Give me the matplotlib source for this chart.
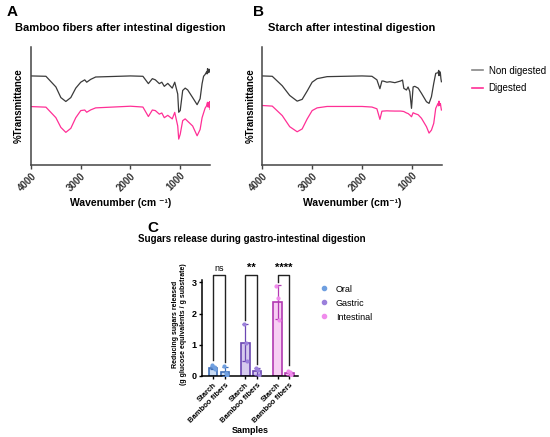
import matplotlib
matplotlib.use("Agg")
import matplotlib.pyplot as plt
from matplotlib.lines import Line2D

plt.rcParams['font.family'] = ['Liberation Sans', 'DejaVu Sans']

# FTIR spectra (wavenumber, % transmittance in arbitrary units)
a_wn = [4000, 3700, 3500, 3400, 3300, 3200, 3100, 3000, 2920, 2880, 2800, 2700, 2000, 1750, 1640, 1560,
        1500, 1420, 1370, 1320, 1250, 1160, 1110, 1050, 1030, 1000, 950, 900, 850, 750, 660, 600,
        560, 530, 500, 470, 460, 450, 440, 430, 420, 410, 400]
a_non = [75.3, 75, 66, 57, 53.7, 57, 65, 70, 72, 70, 72.4, 74.4, 75.3, 75, 68.8, 73,
         72, 68.8, 70, 66.5, 69, 65, 70, 60, 44.6, 46, 63, 65, 63.5, 57, 51, 56,
         68.8, 75, 76.5, 78.7, 77, 81.5, 78, 79, 81, 78.5, 80]
a_dig = [49.4, 48.9, 40, 31.8, 27.6, 31, 40, 46, 46.5, 44.6, 46.6, 48.3, 49.7, 49, 41, 46.5,
         46, 43, 44, 40, 42, 39, 44.5, 33, 21.9, 26, 37.5, 39, 37, 33, 24.7, 30,
         40, 44, 48, 50, 52, 53, 49, 52.5, 49, 53.5, 47]

b_wn = [4000, 3800, 3600, 3450, 3300, 3200, 3100, 3000, 2900, 2700, 2000, 1800, 1700, 1640, 1600, 1575,
        1500, 1440, 1340, 1226, 1186, 1160, 1107, 1074, 1040, 1006, 974, 940, 873, 806, 706, 654,
        606, 560, 520, 474, 460, 454, 440, 426, 416, 406]
b_non = [75.3, 75, 67, 58.8, 54, 55.5, 62.5, 70, 73, 74.7, 75.3, 75, 72, 64.5, 71, 71,
         70, 70.4, 69.6, 71, 71.8, 64.8, 63.4, 66, 62, 47.9, 66, 66.5, 65, 60.6, 53.5, 52.1,
         57.7, 69, 77.5, 78, 80, 75.5, 79, 77.5, 73, 70.4]
b_dig = [50.3, 49.8, 41.8, 32.4, 28.1, 30.5, 38.9, 46, 48.3, 49.5, 49.5, 49, 47.5, 38.6, 45.5, 45.6,
         45.8, 45.7, 45.6, 45.6, 45.4, 45.2, 44, 43.5, 42.3, 40.8, 44.2, 43.5, 42.5, 39.5, 32.4, 27,
         29.5, 35.2, 47.9, 52.1, 50, 54, 50.5, 52, 49, 46.5]

# sugars release (g glucose eq / g substrate)
sample_labels = ['Starch', 'Bamboo fibers', 'Starch', 'Bamboo fibers', 'Starch', 'Bamboo fibers']
phases = ['Oral', 'Gastric', 'Intestinal']
means = [0.27, 0.14, 1.07, 0.15, 2.37, 0.09]
sds = [0.06, 0.14, 0.60, 0.12, 0.54, 0.05]
points = [[0.34, 0.28, 0.21], [0.31, 0.08, 0.04], [1.67, 1.06, 0.48],
          [0.27, 0.18, 0.03], [2.87, 2.5, 1.8], [0.15, 0.12, 0.04]]
signif = ['ns', '**', '****']
bracket_legs = [(0.5, 0.45), (1.8, 0.4), (3.0, 0.35)]

black = '#3a3a3a'
pink = '#ff2f96'
fill_cols = ['#c9dbf3', '#d6caee', '#f7cff3']
edge_cols = ['#3f6fb8', '#6b47b2', '#b23ab2']
dot_cols = ['#6f9fe0', '#9b80db', '#f08cec']

fig = plt.figure(figsize=(5.5, 4.37), dpi=100)


def spectrum_panel(rect, wn, non, dig, title, xlab):
    ax = fig.add_axes(rect)
    ax.plot(wn, non, color=black, lw=0.9)
    ax.plot(wn, dig, color=pink, lw=0.9)
    ax.set_xlim(4000, 400)
    ax.set_ylim(0, 100)
    ax.set_yticks([])
    ax.set_xticks([4000, 3000, 2000, 1000])
    ax.tick_params(axis='x', length=3, width=1, color='#444444', pad=1)
    for lab in ax.get_xticklabels():
        lab.set_rotation(45)
        lab.set_ha('right')
        lab.set_rotation_mode('anchor')
        lab.set_fontsize(7)
        lab.set_fontweight('bold')
        lab.set_color('#333333')
    for s in ['top', 'right']:
        ax.spines[s].set_visible(False)
    for s in ['left', 'bottom']:
        ax.spines[s].set_color('#444444')
        ax.spines[s].set_linewidth(1.1)
    ax.set_title(title, fontsize=8, fontweight='bold', pad=11)
    ax.set_ylabel('%Transmittance', fontsize=7, fontweight='bold', labelpad=5)
    ax.set_xlabel(xlab, fontsize=7.5, fontweight='bold', labelpad=4)
    return ax


axA = spectrum_panel([0.0564, 0.6224, 0.3255, 0.2707], a_wn, a_non, a_dig,
                     'Bamboo fibers after intestinal digestion', 'Wavenumber (cm \u207b\u00b9)')
axB = spectrum_panel([0.4769, 0.6224, 0.3262, 0.2707], b_wn, b_non, b_dig,
                     'Starch after intestinal digestion', 'Wavenumber (cm\u207b\u00b9)')

fig.legend([Line2D([], [], color='#888888', lw=1.2), Line2D([], [], color=pink, lw=1.2)],
           ['Non digested', 'Digested'], loc='upper left', bbox_to_anchor=(0.853, 0.856),
           frameon=False, fontsize=7, handlelength=1.1, handletextpad=0.6, labelspacing=0.75,
           borderaxespad=0, borderpad=0.3)

fig.text(0.012, 0.973, 'A', fontsize=11, fontweight='bold', va='center')
fig.text(0.460, 0.973, 'B', fontsize=11, fontweight='bold', va='center')
fig.text(0.268, 0.478, 'C', fontsize=11, fontweight='bold', va='center')

# panel C
axC = fig.add_axes([0.3678, 0.1396, 0.174, 0.2357])
xpos = [0, 1, 2.75, 3.75, 5.5, 6.5]
for i, x in enumerate(xpos):
    g = i // 2
    axC.bar(x, means[i], width=0.72, color=fill_cols[g], edgecolor=edge_cols[g], linewidth=1.2, zorder=2)
    axC.errorbar(x, means[i], yerr=sds[i], fmt='none', ecolor=edge_cols[g], elinewidth=0.9,
                 capsize=2, capthick=0.9, zorder=3)
    axC.scatter([x - 0.12, x + 0.05, x + 0.15], points[i], s=9, color=dot_cols[g], zorder=4, linewidths=0)

for g in range(3):
    x1, x2 = xpos[2 * g], xpos[2 * g + 1]
    l1, l2 = bracket_legs[g]
    axC.plot([x1, x1, x2, x2], [l1, 3.24, 3.24, l2], color='#222222', lw=1, clip_on=False, zorder=5)
    bold = signif[g] != 'ns'
    axC.text((x1 + x2) / 2, 3.3, signif[g], ha='center', va='bottom',
             fontsize=8 if bold else 6.5, fontweight='bold' if bold else 'normal', clip_on=False)

axC.set_xlim(-0.94, 7.24)
axC.set_ylim(0, 3.3)
axC.set_yticks([0, 1, 2, 3])
axC.set_xticks(xpos)
axC.set_xticklabels(sample_labels, rotation=45, ha='right', rotation_mode='anchor',
                    fontsize=5.5, fontweight='bold')
for lab in axC.get_yticklabels():
    lab.set_fontweight('bold')
    lab.set_fontsize(6.5)
axC.tick_params(length=2.5, width=1, pad=1.5)
axC.spines['top'].set_visible(False)
axC.spines['right'].set_visible(False)
axC.spines['left'].set_bounds(0, 3.08)
for s in ['left', 'bottom']:
    axC.spines[s].set_linewidth(1.1)
axC.set_ylabel('Reducing sugars released\n(g glucose equivalents / g substrate)', fontsize=5,
               fontweight='bold', labelpad=3, linespacing=1.3)
axC.set_xlabel('Samples', fontsize=6.5, fontweight='bold', labelpad=1)
fig.text(0.458, 0.453, 'Sugars release during gastro-intestinal digestion', fontsize=7,
         fontweight='bold', ha='center', va='center')

fig.legend([Line2D([], [], ls='', marker='o', ms=3, color=c) for c in dot_cols], phases,
           loc='upper left', bbox_to_anchor=(0.578, 0.355), frameon=False, fontsize=6.5,
           handlelength=0.8, handletextpad=0.9, labelspacing=0.55, borderaxespad=0, borderpad=0.3)

fig.savefig('out.png', dpi=100)
